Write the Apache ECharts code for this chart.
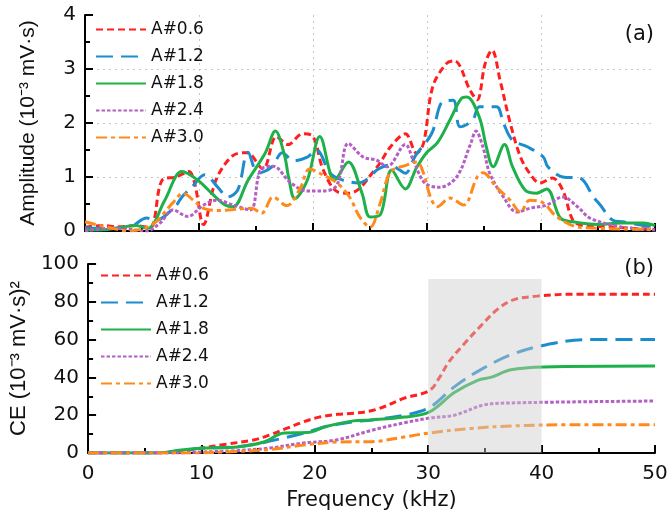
<!DOCTYPE html>
<html>
<head>
<meta charset="utf-8">
<script src="https://cdn.jsdelivr.net/npm/echarts@6/dist/echarts.min.js"></script>
<style>
  html, body { margin: 0; padding: 0; background: #fff; }
  #chart { width: 672px; height: 516px; }
</style>
</head>
<body>
<div id="chart"></div>
<script>
// tick / axis settings
const freqMin = 0, freqMax = 50, freqStep = 10
const ampMax = 4, ampStep = 1
const ceMax = 100, ceStep = 20
const shadeBand = [30, 40, 92]

const seriesNames = ['A#0.6', 'A#1.2', 'A#1.8', 'A#2.4', 'A#3.0']

// panel (a): amplitude, [kHz, 10^-3 mV·s]
const amp06 = [[0,0.07],[1.5,0.1],[3,0.08],[4.5,0.1],[5.7,0.06],[6.8,0.95],[8,1.0],[9.1,1.1],[9.6,0.9],[10.4,0.12],[11.5,0.95],[13,1.4],[14.2,1.45],[15.6,1.15],[16.8,1.75],[17.8,1.6],[19.1,1.8],[20,1.75],[20.9,1.13],[22.2,0.72],[23.2,0.7],[25.6,1.18],[26.8,1.56],[28.1,1.8],[29.1,1.44],[29.7,1.63],[30.5,2.67],[31.7,3.1],[32.4,3.15],[33.8,2.6],[34.4,2.43],[35.1,3.1],[35.7,3.35],[36.4,2.8],[37.3,2.0],[38.2,1.37],[39,1.07],[39.9,0.89],[41,0.98],[41.9,0.76],[42.8,0.2],[43.7,0.1],[46,0.08],[48,0.05],[50,0.03]]
const amp12 = [[0,0.05],[2,0.05],[4,0.08],[5.4,0.24],[6.2,0.2],[7.9,0.45],[8.5,0.63],[9.4,0.82],[10.5,1.04],[11.7,0.8],[12.5,0.63],[13.4,0.76],[14.3,1.46],[15.2,1.07],[16.4,1.19],[17.3,1.45],[18.3,1.3],[19.5,1.37],[20.3,1.5],[21.5,1.07],[22.5,0.95],[24,0.89],[25,1.0],[25.6,1.13],[26.8,1.22],[27.6,1.13],[28.1,1.07],[29,1.4],[30.4,1.8],[31.4,2.4],[32.3,2.42],[32.9,1.93],[34,2.05],[34.6,2.3],[36.1,2.3],[36.7,2.0],[37.5,1.68],[38.8,1.56],[40.2,1.37],[40.6,1.19],[41.9,1.0],[43.4,0.98],[44.6,0.63],[45.2,0.48],[46.3,0.2],[47.2,0.17],[49,0.1],[50,0.08]]
const amp18 = [[0,0.02],[2,0.03],[3.5,0.08],[4.4,0.1],[5.5,0.05],[7,0.57],[8.5,1.1],[9.9,0.94],[11.1,0.7],[12.3,0.48],[13,0.45],[14.3,0.94],[15.8,1.44],[16.7,1.85],[17.5,1.4],[17.9,0.95],[18.4,0.6],[19.5,0.94],[20.6,1.75],[21.9,0.94],[23.1,1.28],[24.3,0.7],[25,0.26],[25.9,0.3],[26.9,1.13],[28.1,0.78],[29.1,1.18],[30,1.46],[30.9,1.63],[32,2.05],[33,2.45],[33.5,2.48],[34.6,2.1],[35.2,1.56],[35.8,1.19],[36.8,1.6],[37.5,1.19],[38.6,0.76],[39.6,0.7],[40.5,0.78],[41.7,0.24],[42.8,0.17],[45,0.12],[47,0.15],[49,0.15],[50,0.1]]
const amp24 = [[0,0],[2,0.05],[4,0.03],[5.4,0.0],[6.6,0.15],[7.7,0.39],[9,0.27],[10.4,0.48],[11.6,0.57],[13,0.48],[14.5,0.39],[15.4,1.13],[16.5,1.2],[18,0.9],[19.5,0.74],[20.9,0.74],[22.1,0.85],[23.1,1.62],[24.4,1.37],[25.6,1.31],[26.5,1.19],[28.1,1.6],[28.8,1.31],[29.8,0.89],[31.1,0.81],[32.6,1.0],[33.8,1.6],[34.3,1.85],[34.9,1.56],[35.5,1.07],[36.7,0.63],[37.9,0.35],[39,0.42],[40.5,0.48],[41.9,0.63],[43.2,0.45],[44.3,0.24],[46.9,0.08],[50,0.02]]
const amp30 = [[0,0.17],[2.2,0.06],[3.8,0.0],[5.9,0.12],[7.7,0.52],[8.6,0.7],[9.5,0.57],[10.4,0.42],[11.8,0.38],[13,0.4],[14.6,0.42],[15.5,0.33],[16.5,0.63],[17.7,0.47],[18.9,0.8],[19.7,1.15],[20.6,1.07],[22.1,0.89],[23.2,0.63],[24.1,0.26],[25,0.07],[25.9,0.52],[26.8,1.09],[28.2,1.22],[29.1,1.28],[29.7,1.07],[30.3,0.63],[30.9,0.45],[32,0.61],[33.2,0.48],[34.4,1.0],[34.9,1.08],[36.1,0.81],[37.3,0.57],[38.2,0.35],[39,0.57],[40.2,0.52],[41.4,0.26],[43.4,0.07],[50,0.03]]

// panel (b): cumulative energy, [kHz, (10^-3 mV·s)^2]
const ce06 = [[0,0],[6,0],[8,0.8],[10,2.6],[12,4.5],[14.6,6.9],[16,9.5],[17.5,13],[19,16.5],[20.4,19],[22,20.5],[23.4,21],[25.4,23],[27.9,29],[30.1,33],[31,40],[31.8,48],[33.2,58],[34.6,67],[36.1,76],[37.5,81],[39.6,83],[42.5,84],[50,84]]
const ce12 = [[0,0],[6,0],[8,1],[10,2.5],[13,3.2],[15,5],[17.3,8],[19.3,11],[21,14],[23.4,16.5],[25,17.5],[27.9,20],[30.1,24],[32.3,35],[34.6,44],[37.3,52],[40.2,57],[44,60],[50,60]]
const ce18 = [[0,0],[6,0],[8.2,1.6],[10.3,2.6],[13.2,3.2],[15.5,5.8],[17.3,10.6],[19.3,10.8],[21,14],[23.4,17],[25,17.5],[27.9,19],[30.1,21.7],[32.3,32],[34.4,38.6],[35.5,40],[37.3,44],[40.2,45.5],[50,46]]
const ce24 = [[0,0],[8,0],[10,0.5],[13,1.2],[16,2.6],[19,5.3],[21.9,6.9],[25,12],[27.9,16],[30.1,18.5],[32.3,20],[34.9,25.4],[37.3,26.5],[50,27.5]]
const ce30 = [[0,0],[9,0],[13,0.8],[16,1.8],[19,4.2],[21.9,5.8],[25,6],[27.9,8.5],[30.1,10.6],[33.8,13],[37.3,14.3],[42.5,15],[50,15]]

const ampData = [amp06, amp12, amp18, amp24, amp30]
const ceData = [ce06, ce12, ce18, ce24, ce30]

const COLORS = ['#ff1f1f', '#1c8dcc', '#1eb04a', '#b45fc4', '#ff8a1c']
const DASHES = [[7, 4], [17, 8], 'solid', [3.5, 2], [11, 4, 4, 4]]
const WIDE = '"DejaVu Sans", sans-serif'
const NARROW = '"Liberation Sans", Arial, sans-serif'

const chart = echarts.init(document.getElementById('chart'), null, { renderer: 'canvas' })

function makeSeries(list, axisIdx) {
  return list.map((d, i) => ({
    type: 'line',
    name: seriesNames[i],
    xAxisIndex: axisIdx,
    yAxisIndex: axisIdx,
    data: d,
    smooth: 0.35,
    symbol: 'none',
    z: 2,
    lineStyle: { color: COLORS[i], width: 3, type: DASHES[i] },
    itemStyle: { color: COLORS[i] },
  }))
}

const axisCommon = {
  axisLine: { show: true, onZero: false, lineStyle: { color: '#000', width: 2 } },
  axisTick: { show: true, inside: true, length: 8, lineStyle: { color: '#000', width: 2 } },
  minorTick: { show: true, splitNumber: 2, length: 5, lineStyle: { color: '#000', width: 2 } },
  axisLabel: { color: '#111', fontSize: 20, fontFamily: WIDE, margin: 9 },
  nameTextStyle: { color: '#111', fontSize: 21, fontFamily: NARROW },
}

const dotted = { show: true, showMinLine: false, showMaxLine: false, lineStyle: { color: '#c8c8c8', type: [2, 4], width: 1 } }

const legendCommon = {
  orient: 'vertical',
  data: seriesNames,
  padding: 0,
  itemWidth: 50,
  itemHeight: 14,
  itemGap: 10,
  itemStyle: { color: 'rgba(0,0,0,0)', borderColor: 'rgba(0,0,0,0)', borderWidth: 0 },
  textStyle: { color: '#111', fontSize: 17, fontFamily: WIDE },
  selectedMode: false,
}

const tagStyle = { fontSize: 21, fontWeight: 'normal', color: '#111', fontFamily: WIDE }

chart.setOption({
  backgroundColor: '#fff',
  animation: false,
  title: [
    { text: '(a)', right: 18, top: 24, padding: 0, textStyle: tagStyle },
    { text: '(b)', right: 18, top: 258, padding: 0, textStyle: tagStyle },
  ],
  legend: [
    Object.assign({ left: 95, top: 21 }, legendCommon),
    Object.assign({ left: 100, top: 267 }, legendCommon),
  ],
  grid: [
    { left: 85, right: 17, top: 15, height: 216 },
    { left: 85, right: 17, top: 264, height: 189 },
  ],
  xAxis: [
    Object.assign({}, axisCommon, {
      gridIndex: 0, type: 'value', min: freqMin, max: freqMax, interval: freqStep,
      axisLabel: { show: false },
      splitLine: dotted,
    }),
    Object.assign({}, axisCommon, {
      gridIndex: 1, type: 'value', min: freqMin, max: freqMax, interval: freqStep,
      axisLabel: { color: '#111', fontSize: 20, fontFamily: WIDE, margin: 11 },
      splitLine: { show: false },
      name: 'Frequency (kHz)', nameLocation: 'middle', nameGap: 37,
      nameTextStyle: { color: '#111', fontSize: 21, fontFamily: WIDE },
    }),
  ],
  yAxis: [
    Object.assign({}, axisCommon, {
      gridIndex: 0, type: 'value', min: 0, max: ampMax, interval: ampStep,
      splitLine: dotted,
      name: 'Amplitude (10⁻³ mV·s)', nameLocation: 'middle', nameGap: 46,
    }),
    Object.assign({}, axisCommon, {
      gridIndex: 1, type: 'value', min: 0, max: ceMax, interval: ceStep,
      splitLine: { show: false },
      name: 'CE (10⁻³ mV·s)²', nameLocation: 'middle', nameGap: 50,
      nameTextStyle: { color: '#111', fontSize: 22, fontFamily: NARROW },
    }),
  ],
  series: [
    ...makeSeries(ampData, 0),
    ...makeSeries(ceData, 1),
    {
      type: 'line',
      name: 'shade',
      xAxisIndex: 1,
      yAxisIndex: 1,
      data: [],
      z: 10,
      markArea: {
        silent: true,
        z: 10,
        itemStyle: { color: 'rgba(205,205,205,0.45)' },
        data: [[{ xAxis: shadeBand[0], yAxis: 0 }, { xAxis: shadeBand[1], yAxis: shadeBand[2] }]],
      },
    },
  ],
})
</script>
</body>
</html>
